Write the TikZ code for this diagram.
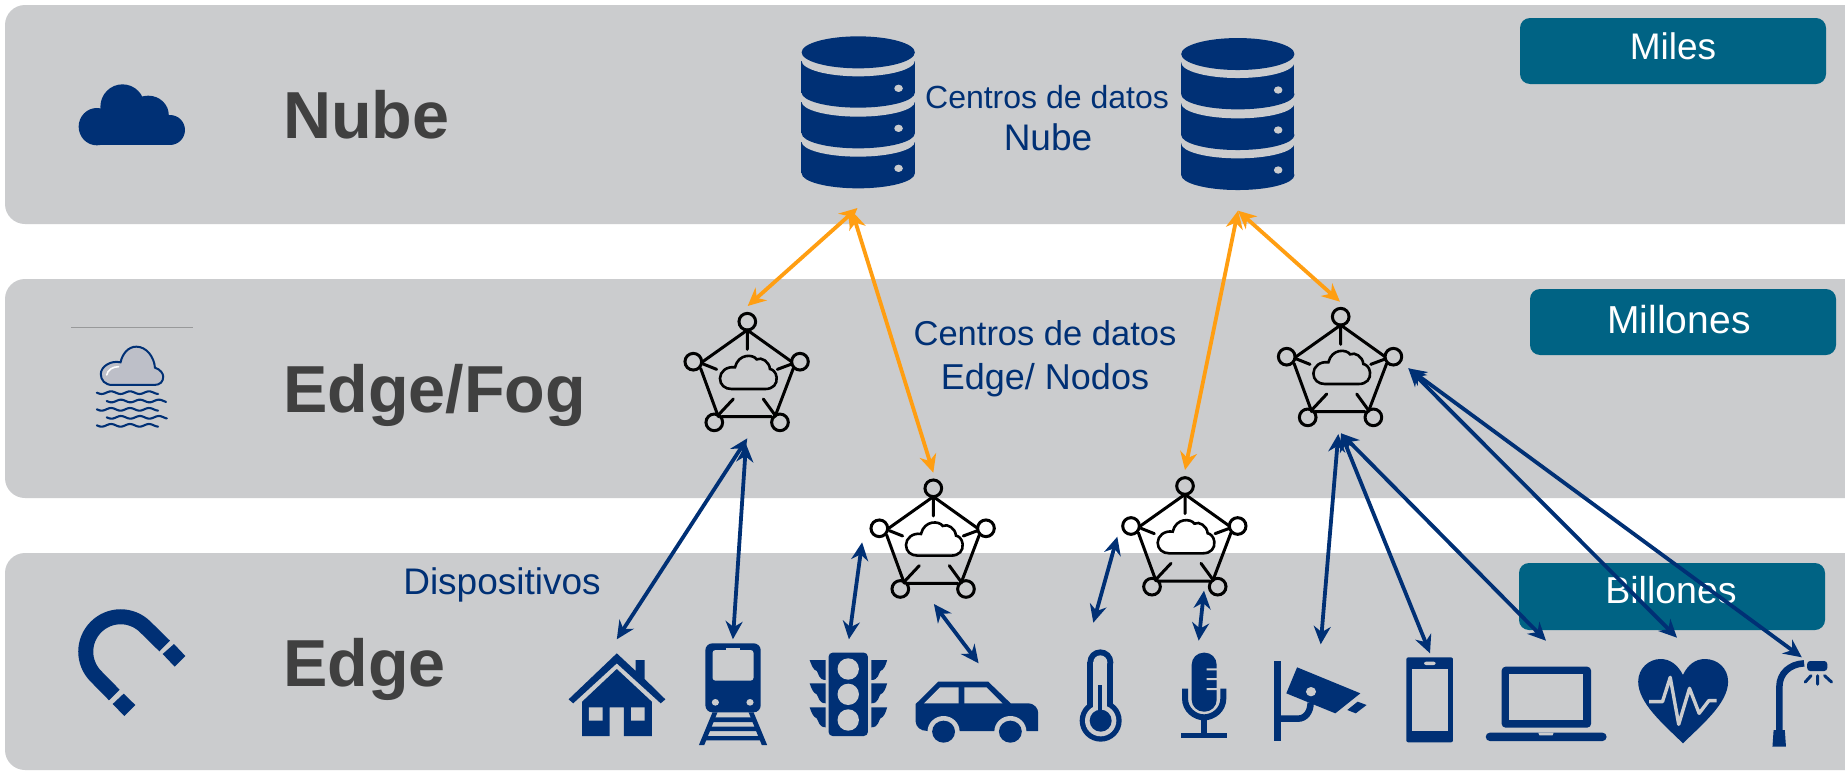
\documentclass[tikz,border=0pt]{standalone}
\usepackage{fontspec}
\setmainfont{Liberation Sans}
\usetikzlibrary{arrows.meta}
\definecolor{panelgray}{HTML}{CBCCCE}
\definecolor{navy}{HTML}{003075}
\definecolor{tagteal}{HTML}{006384}
\definecolor{orangeA}{HTML}{FF9E12}
\definecolor{headgray}{HTML}{404040}
\definecolor{fogcloud}{HTML}{BDBFC8}
\newcommand{\fs}[1]{\fontsize{#1}{#1}\selectfont}
\tikzset{
  panelbox/.style={fill=panelgray,rounded corners=20pt,draw=none},
  tagbox/.style={fill=tagteal,rounded corners=10pt,draw=none},
  tagtext/.style={text=white,inner sep=0pt,anchor=base},
  layertext/.style={text=headgray,font=\fs{66.5}\bfseries,inner sep=0pt,anchor=base west},
  captext/.style={text=navy,inner sep=0pt,anchor=base},
  link/.style={line width=3.8pt,draw=navy,{Stealth[length=18pt,width=17pt]}-{Stealth[length=18pt,width=17pt]}},
  uplink/.style={line width=3.8pt,draw=orangeA,{Stealth[length=18pt,width=17pt]}-{Stealth[length=18pt,width=17pt]}},
  zA/.style={shift={(0,0)},x=.39526pt,y=-.33333pt},
  zB/.style={shift={(540,500)},x=.35714pt,y=-.33333pt},
  zC/.style={shift={(1240,540)},x=.38584pt,y=-.33333pt},
  zD/.style={shift={(0,540)},x=.33333pt,y=-.33333pt},
  zE/.style={shift={(1080,460)},x=.33333pt,y=-.33333pt},
}
\newcommand{\fognode}[2]{%
 \begin{scope}[shift={(#1-87.33,#2-31.67)},x=.33333pt,y=-.33333pt,line cap=round,line width=3pt,draw=black]
  \draw (262,95) circle (25);
  \draw (100,215) circle (25);
  \draw (420,215) circle (25);
  \draw (163,397) circle (25);
  \draw (360,397) circle (25);
  \draw (262,120)--(128,215) (262,120)--(395,215) (122,235)--(175,380) (400,235)--(345,380) (185,380)--(335,380);
  \draw (262,120)--(262,178) (130,222)--(170,238) (395,222)--(352,238) (175,375)--(220,327) (345,375)--(310,327);
  \draw[line width=2.6pt] (215,297) -- (315,297) .. controls (340,297) and (352,282) .. (350,262) .. controls (348,245) and (337,238) .. (330,237) .. controls (328,215) and (305,200) .. (290,208) .. controls (280,192) and (235,190) .. (225,232) .. controls (200,228) and (180,245) .. (180,265) .. controls (180,285) and (195,297) .. (215,297) -- cycle;
 \end{scope}}
\newcommand{\dbicon}[2]{%
 \begin{scope}[shift={(#1,#2)},x=.35714pt,y=-.33333pt]
  \fill[navy] (88,365) rectangle (405,460);
  \fill[navy] (247,460) ellipse (158.5 and 45);
  \fill[panelgray] (247,365) ellipse (158.5 and 45);
  \fill[navy] (88,245) rectangle (405,340);
  \fill[navy] (247,340) ellipse (158.5 and 45);
  \fill[panelgray] (247,245) ellipse (158.5 and 45);
  \fill[navy] (88,122) rectangle (405,218);
  \fill[navy] (247,218) ellipse (158.5 and 45);
  \fill[panelgray] (247,122) ellipse (158.5 and 47);
  \fill[navy] (247,97) ellipse (158.5 and 48);
  \fill[panelgray] (360,205) ellipse (12 and 11) (360,325) ellipse (12 and 11) (360,445) ellipse (12 and 11);
 \end{scope}}
\begin{document}
\begin{tikzpicture}[x=1pt,y=-1pt]
\path[use as bounding box] (0,0) rectangle (1845,771);
\clip (0,0) rectangle (1845,771);
\fill[white] (0,0) rectangle (1845,771);
% panels
\path[panelbox] (5,5) rectangle (1866,224);
\path[panelbox] (5,279) rectangle (1866,498);
\path[panelbox] (5,553) rectangle (1866,770);
% tags
\path[tagbox] (1520,18) rectangle (1826,84);
\path[tagbox] (1530,289) rectangle (1836,355);
\path[tagbox] (1519,563) rectangle (1825,630);
\node[tagtext,font=\fs{37}] (tagA) at (1673,59) {Miles};
\node[tagtext,font=\fs{39}] (tagB) at (1679,333) {Millones};
\node[tagtext,font=\fs{37.5}] (tagC) at (1671,603) {Billones};
% layer titles
\node[layertext] (lNube) at (283,138) {Nube};
\node[layertext] (lFog) at (283,412) {Edge/Fog};
\node[layertext] (lEdge) at (283,686) {Edge};
% captions
\node[captext,font=\fs{32}] (c1) at (1047,108) {Centros de datos};
\node[captext,font=\fs{37}] (c2) at (1048,150) {Nube};
\node[captext,font=\fs{34.5}] (c3) at (1045,345) {Centros de datos};
\node[captext,font=\fs{36}] (c4) at (1045,389) {Edge/ Nodos};
\node[captext,font=\fs{37}] (c5) at (502,594) {Dispositivos};
% left icons: cloud
\begin{scope}[zA]
 \fill[navy] (245,380) ellipse (46 and 56) (310,320) ellipse (56 and 67) (375,345) ellipse (52 and 58) (430,390) ellipse (38 and 45);
 \fill[navy] (245,360) rectangle (430,435);
 % fog
 \draw[line width=.8pt,draw=black!25!panelgray] (180,982) -- (488,982);
 \draw[line width=2pt,navy,fill=fogcloud] (285,1155) .. controls (265,1155) and (255,1140) .. (255,1122) .. controls (255,1100) and (280,1080) .. (305,1087) .. controls (310,1060) and (325,1040) .. (345,1040) .. controls (370,1040) and (390,1070) .. (392,1103) .. controls (405,1108) and (413,1120) .. (413,1130) .. controls (413,1145) and (405,1155) .. (390,1155) -- cycle;
 \draw[line width=1.6pt,white,line cap=round] (270,1125) .. controls (272,1110) and (285,1100) .. (300,1100);
 \foreach \yy/\xa/\xb in {1178/245/400,1203/270/420,1228/245/400,1252/270/422,1276/245/400}
  \draw[line width=2.1pt,navy,line cap=round,smooth] plot[domain=\xa:\xb,samples=40] (\x,{\yy+4*sin((\x-\xa)*7.5)});
\end{scope}
% magnet
\begin{scope}[zD]
 \draw[navy,line width=15pt] (343,465) -- (288,409) .. controls (247,368) and (247,302) .. (288,261) .. controls (329,220) and (395,220) .. (436,261) -- (494,318);
 \fill[navy] (338,492) -- (371,461) -- (406,495) -- (373,528) -- cycle;
 \fill[navy] (488,342) -- (522,312) -- (556,348) -- (524,380) -- cycle;
\end{scope}
% databases
\dbicon{770}{20}
\dbicon{1149.6}{21.7}
% fog nodes
\fognode{747.3}{321.7}
\fognode{933.3}{488.3}
\fognode{1185}{486}
\fognode{1340.7}{316.7}
% device icons
\begin{scope}[zB]
 % house
 \fill[navy] (215,460) -- (268,513) -- (268,480) -- (293,480) -- (293,537) -- (351,598) -- (338,610) -- (215,490) -- (93,610) -- (80,598) -- cycle;
 \fill[navy] (215,507) -- (313,605) -- (313,708) -- (235,708) -- (235,622) -- (195,622) -- (195,708) -- (118,708) -- (118,605) -- cycle;
 \fill[panelgray] (137,622) rectangle (175,662) (255,622) rectangle (293,662);
 % train
 \fill[navy,rounded corners=7pt] (463,430) rectangle (618,637);
 \fill[panelgray,rounded corners=3pt] (483,450) rectangle (598,542);
 \fill[panelgray] (520,445) rectangle (560,452);
 \fill[panelgray] (491,607) ellipse (10 and 10) (588,607) ellipse (10 and 10);
 \fill[navy] (483,637) -- (497,637) -- (460,735) -- (445,735) -- cycle;
 \fill[navy] (598,637) -- (584,637) -- (621,735) -- (636,735) -- cycle;
 \fill[navy] (482,652) rectangle (600,666) (472,680) rectangle (610,693) (462,708) rectangle (620,721);
 % traffic light
 \fill[navy,rounded corners=4pt] (808,458) rectangle (918,708);
 \fill[panelgray] (863,507) ellipse (30 and 32) (863,583) ellipse (30 and 32) (863,660) ellipse (30 and 32);
 \foreach \yy in {480,550,622} {
  \fill[navy] (755,\yy) -- (800,\yy) -- (800,\yy+60) .. controls (780,\yy+60) and (780,\yy+40) .. (775,\yy+33) .. controls (765,\yy+30) and (760,\yy+15) .. (755,\yy) -- cycle;
  \fill[navy] (972,\yy) -- (928,\yy) -- (928,\yy+60) .. controls (948,\yy+60) and (948,\yy+40) .. (953,\yy+33) .. controls (963,\yy+30) and (968,\yy+15) .. (972,\yy) -- cycle;
 }
 % car
 \fill[navy] (1115,545) -- (1255,545) -- (1318,610) -- (1365,610) .. controls (1385,610) and (1395,625) .. (1395,640) -- (1395,693) -- (1085,693) .. controls (1065,693) and (1052,680) .. (1052,665) -- (1052,612) -- cycle;
 \fill[panelgray] (1075,610) -- (1120,562) -- (1172,562) -- (1172,610) -- cycle (1188,562) -- (1250,562) -- (1295,610) -- (1188,610) -- cycle;
 \fill[panelgray] (1130,695) ellipse (45 and 47) (1317,695) ellipse (45 and 47);
 \fill[panelgray] (1080,696) rectangle (1370,710);
 \fill[navy] (1130,695) ellipse (32 and 33) (1317,695) ellipse (32 and 33);
\end{scope}
\begin{scope}[zE]
 % thermometer
 \fill[navy] (22,607) rectangle (100,760);
 \fill[navy] (61,607) ellipse (39 and 39);
 \fill[navy] (62,782) ellipse (63 and 63);
 \fill[panelgray] (40,607) rectangle (82,760);
 \fill[panelgray] (61,607) ellipse (21 and 21);
 \fill[panelgray] (62,782) ellipse (47 and 47);
 \fill[navy] (55,675) rectangle (67,760);
 \fill[navy] (62,782) ellipse (33 and 33);
 % microphone
 \fill[navy,rounded corners=12pt] (335,578) rectangle (410,755);
 \fill[panelgray] (380,625) rectangle (412,631) (380,654) rectangle (412,660) (380,684) rectangle (412,690);
 \draw[navy,line width=6pt] (315,686) -- (315,715) .. controls (315,750) and (345,772) .. (372,772) .. controls (400,772) and (430,750) .. (430,715) -- (430,686);
 \fill[navy] (364,775) rectangle (380,820);
 \fill[navy] (302,818) rectangle (442,835);
\end{scope}
\begin{scope}[zC]
 % camera
 \fill[navy] (87,362) rectangle (105,603);
 \draw[navy,line width=6.5pt] (105,536) -- (150,536) .. controls (170,536) and (183,515) .. (183,488);
 \fill[navy] (148,382) -- (312,460) -- (247,520) -- (120,460) -- cycle;
 \fill[panelgray] (184,455) ellipse (13 and 14);
 \fill[navy] (278,510) -- (305,485) -- (328,495) -- (300,520) -- cycle;
 % phone
 \fill[navy,rounded corners=2pt] (431,352) rectangle (552,607);
 \fill[panelgray] (447,388) rectangle (538,572);
 \fill[panelgray,rounded corners=2pt] (477,365) rectangle (507,375);
 % laptop
 \fill[navy,rounded corners=4pt] (678,380) rectangle (910,563);
 \fill[panelgray] (698,403) rectangle (890,540);
 \fill[navy,rounded corners=4pt] (637,578) -- (950,578) -- (950,603) -- (637,603) -- cycle;
 \fill[panelgray] (773,578) -- (813,578) -- (810,586) -- (776,586) -- cycle;
 % heart
 \fill[navy] (1148,610) .. controls (1100,555) and (1032,490) .. (1032,425) .. controls (1032,385) and (1060,357) .. (1090,357) .. controls (1115,357) and (1135,375) .. (1148,405) .. controls (1160,375) and (1180,357) .. (1205,357) .. controls (1238,357) and (1265,385) .. (1265,425) .. controls (1265,490) and (1196,555) .. (1148,610) -- cycle;
 \draw[panelgray,line width=3.4pt,line join=round] (1060,485) -- (1095,485) -- (1115,412) -- (1137,553) -- (1165,445) -- (1190,520) -- (1215,482) -- (1235,482);
 % street lamp
 \draw[navy,line width=6.5pt] (1398,572) -- (1398,440) .. controls (1398,400) and (1425,372) .. (1462,370);
 \fill[navy] (1383,570) -- (1412,570) -- (1415,620) -- (1380,620) -- cycle;
 \fill[navy,rounded corners=3pt] (1470,363) rectangle (1522,393);
 \draw[navy,line width=3pt,line cap=round] (1497,407) -- (1497,433) (1480,407) -- (1465,426) (1515,407) -- (1533,426);
\end{scope}
% connector end points
\coordinate (dbA) at (857.5,208);
\coordinate (dbAb) at (852,211);
\coordinate (dbB) at (1238,210.7);
\coordinate (fogA) at (747.7,306);
\coordinate (fogB) at (933.3,472.7);
\coordinate (fogC) at (1185,470);
\coordinate (fogD) at (1340,301.7);
\coordinate (fogAin) at (747.3,438.3);
\coordinate (fogAinb) at (746,444);
\coordinate (fogBl) at (862.1,542.3);
\coordinate (fogBb) at (933.9,604);
\coordinate (fogCl) at (1117.3,536.7);
\coordinate (fogCb) at (1204,590.7);
\coordinate (fogDin) at (1341,433.3);
\coordinate (fogDinb) at (1338.3,434);
\coordinate (fogDr) at (1408.3,368.3);
\coordinate (house) at (616.8,639.3);
\coordinate (train) at (732.9,639.3);
\coordinate (light) at (848.9,639.3);
\coordinate (car) at (978.6,663.3);
\coordinate (thermo) at (1093.3,622.7);
\coordinate (mic) at (1198.7,640.7);
\coordinate (camera) at (1320.7,644.3);
\coordinate (phone) at (1430,653.3);
\coordinate (laptop) at (1546,640.7);
\coordinate (heart) at (1677,637.7);
\coordinate (lamp) at (1801.8,657.3);
% orange links
\draw[uplink] (dbA) -- (fogA);
\draw[uplink] (dbAb) -- (fogB);
\draw[uplink] (dbB) -- (fogC);
\draw[uplink] (dbB) -- (fogD);
% blue links
\draw[link] (fogAin) -- (house);
\draw[link] (fogAinb) -- (train);
\draw[link] (fogBl) -- (light);
\draw[link] (fogBb) -- (car);
\draw[link] (fogCl) -- (thermo);
\draw[link] (fogCb) -- (mic);
\draw[link] (fogDinb) -- (camera);
\draw[link] (fogDin) -- (phone);
\draw[link] (fogDin) -- (laptop);
\draw[link] (fogDr) -- (heart);
\draw[link] (fogDr) -- (lamp);
\end{tikzpicture}
\end{document}
